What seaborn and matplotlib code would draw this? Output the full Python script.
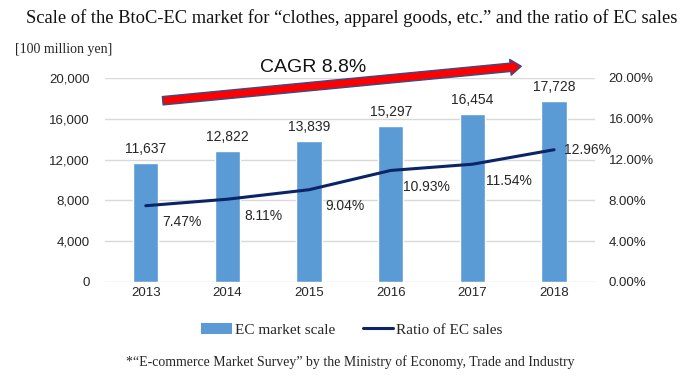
import numpy as np
import pandas as pd
import matplotlib
matplotlib.use("Agg")
import matplotlib.pyplot as plt
import seaborn as sns
from matplotlib.patches import FancyArrowPatch
from matplotlib.lines import Line2D
from matplotlib.patches import Patch

years = ["2013", "2014", "2015", "2016", "2017", "2018"]
market_scale = [11637, 12822, 13839, 15297, 16454, 17728]
ec_ratio = [7.47, 8.11, 9.04, 10.93, 11.54, 12.96]

bar_color = "#5B9BD5"
line_color = "#0B2468"
txt_color = "#262626"

sns.set_theme(style="white")
plt.rcParams['font.family'] = ['Liberation Sans', 'DejaVu Sans']

df = pd.DataFrame({"year": years, "scale": market_scale, "ratio": ec_ratio})

fig = plt.figure(figsize=(6.95, 3.82), dpi=100)
ax = fig.add_axes([0.151, 0.262, 0.705, 0.534])

sns.barplot(data=df, x="year", y="scale", color=bar_color, saturation=1,
            width=0.31, ax=ax)
ax.set_ylim(0, 20000)
ax.set_xlim(-0.5, 5.5)
ax.set_yticks(np.arange(0, 20001, 4000))
ax.set_yticklabels([f"{v:,}" for v in range(0, 20001, 4000)])
ax.grid(axis="y", color="#D9D9D9", linewidth=1)
ax.set_axisbelow(True)
ax.set_xlabel("")
ax.set_ylabel("")
ax.tick_params(axis="both", length=0, labelsize=9.5, colors=txt_color)
ax.tick_params(axis="y", pad=11)
for s in ax.spines.values():
    s.set_visible(False)

for i, v in enumerate(market_scale):
    ax.annotate(f"{v:,}", (i, v), xytext=(0, 5), textcoords="offset points",
                ha="center", va="bottom", fontsize=10, color=txt_color)

ax2 = ax.twinx()
sns.lineplot(data=df, x="year", y="ratio", color=line_color, linewidth=2.2, ax=ax2)
ax2.set_ylim(0, 20)
ax2.set_yticks(np.arange(0, 20.1, 4))
ax2.set_yticklabels([f"{v:.2f}%" for v in np.arange(0, 20.1, 4)])
ax2.set_ylabel("")
ax2.tick_params(axis="y", length=0, labelsize=9.5, colors=txt_color, pad=10)
for s in ax2.spines.values():
    s.set_visible(False)

for i, v in enumerate(ec_ratio):
    if i == len(ec_ratio) - 1:
        ax2.annotate(f"{v:.2f}%", (i, v), xytext=(24, 0), textcoords="offset points",
                     ha="center", va="center", fontsize=10, color=txt_color)
    else:
        ax2.annotate(f"{v:.2f}%", (i, v), xytext=(26, -12), textcoords="offset points",
                     ha="center", va="center", fontsize=10, color=txt_color)

# CAGR arrow
arrow = FancyArrowPatch((160 / 695, 1 - 101 / 382), (524 / 695, 1 - 66 / 382),
                        transform=fig.transFigure, arrowstyle="simple,head_width=1.9,head_length=1.3,tail_width=1.0",
                        mutation_scale=6, facecolor="#FF0000", edgecolor="#2F4F8F", linewidth=1)
fig.add_artist(arrow)
fig.text(313 / 695, 1 - 67 / 382, "CAGR 8.8%", ha="center", va="center",
         fontsize=14, color="#111111")

fig.text(352 / 695, 1 - 18 / 382,
         "Scale of the BtoC-EC market for \u201cclothes, apparel goods, etc.\u201d and the ratio of EC sales",
         ha="center", va="center", fontsize=13.3, family="Liberation Serif", color="#111111")
fig.text(15 / 695, 1 - 50 / 382, "[100 million yen]", ha="left", va="center",
         fontsize=10, family="Liberation Serif", color=txt_color)

handles = [Patch(facecolor=bar_color, edgecolor="none"),
           Line2D([0], [0], color=line_color, linewidth=2.2)]
fig.legend(handles, ["EC market scale", "Ratio of EC sales"], loc="center",
           bbox_to_anchor=(352 / 695, 1 - 330 / 382), ncol=2, frameon=False,
           prop={"family": "Liberation Serif", "size": 11}, handlelength=2.0,
           handletextpad=0.2, columnspacing=1.8)

fig.text(350 / 695, 1 - 362 / 382,
         "*\u201cE-commerce Market Survey\u201d by the Ministry of Economy, Trade and Industry",
         ha="center", va="center", fontsize=10, family="Liberation Serif", color=txt_color)

fig.savefig("out.png", dpi=100)
